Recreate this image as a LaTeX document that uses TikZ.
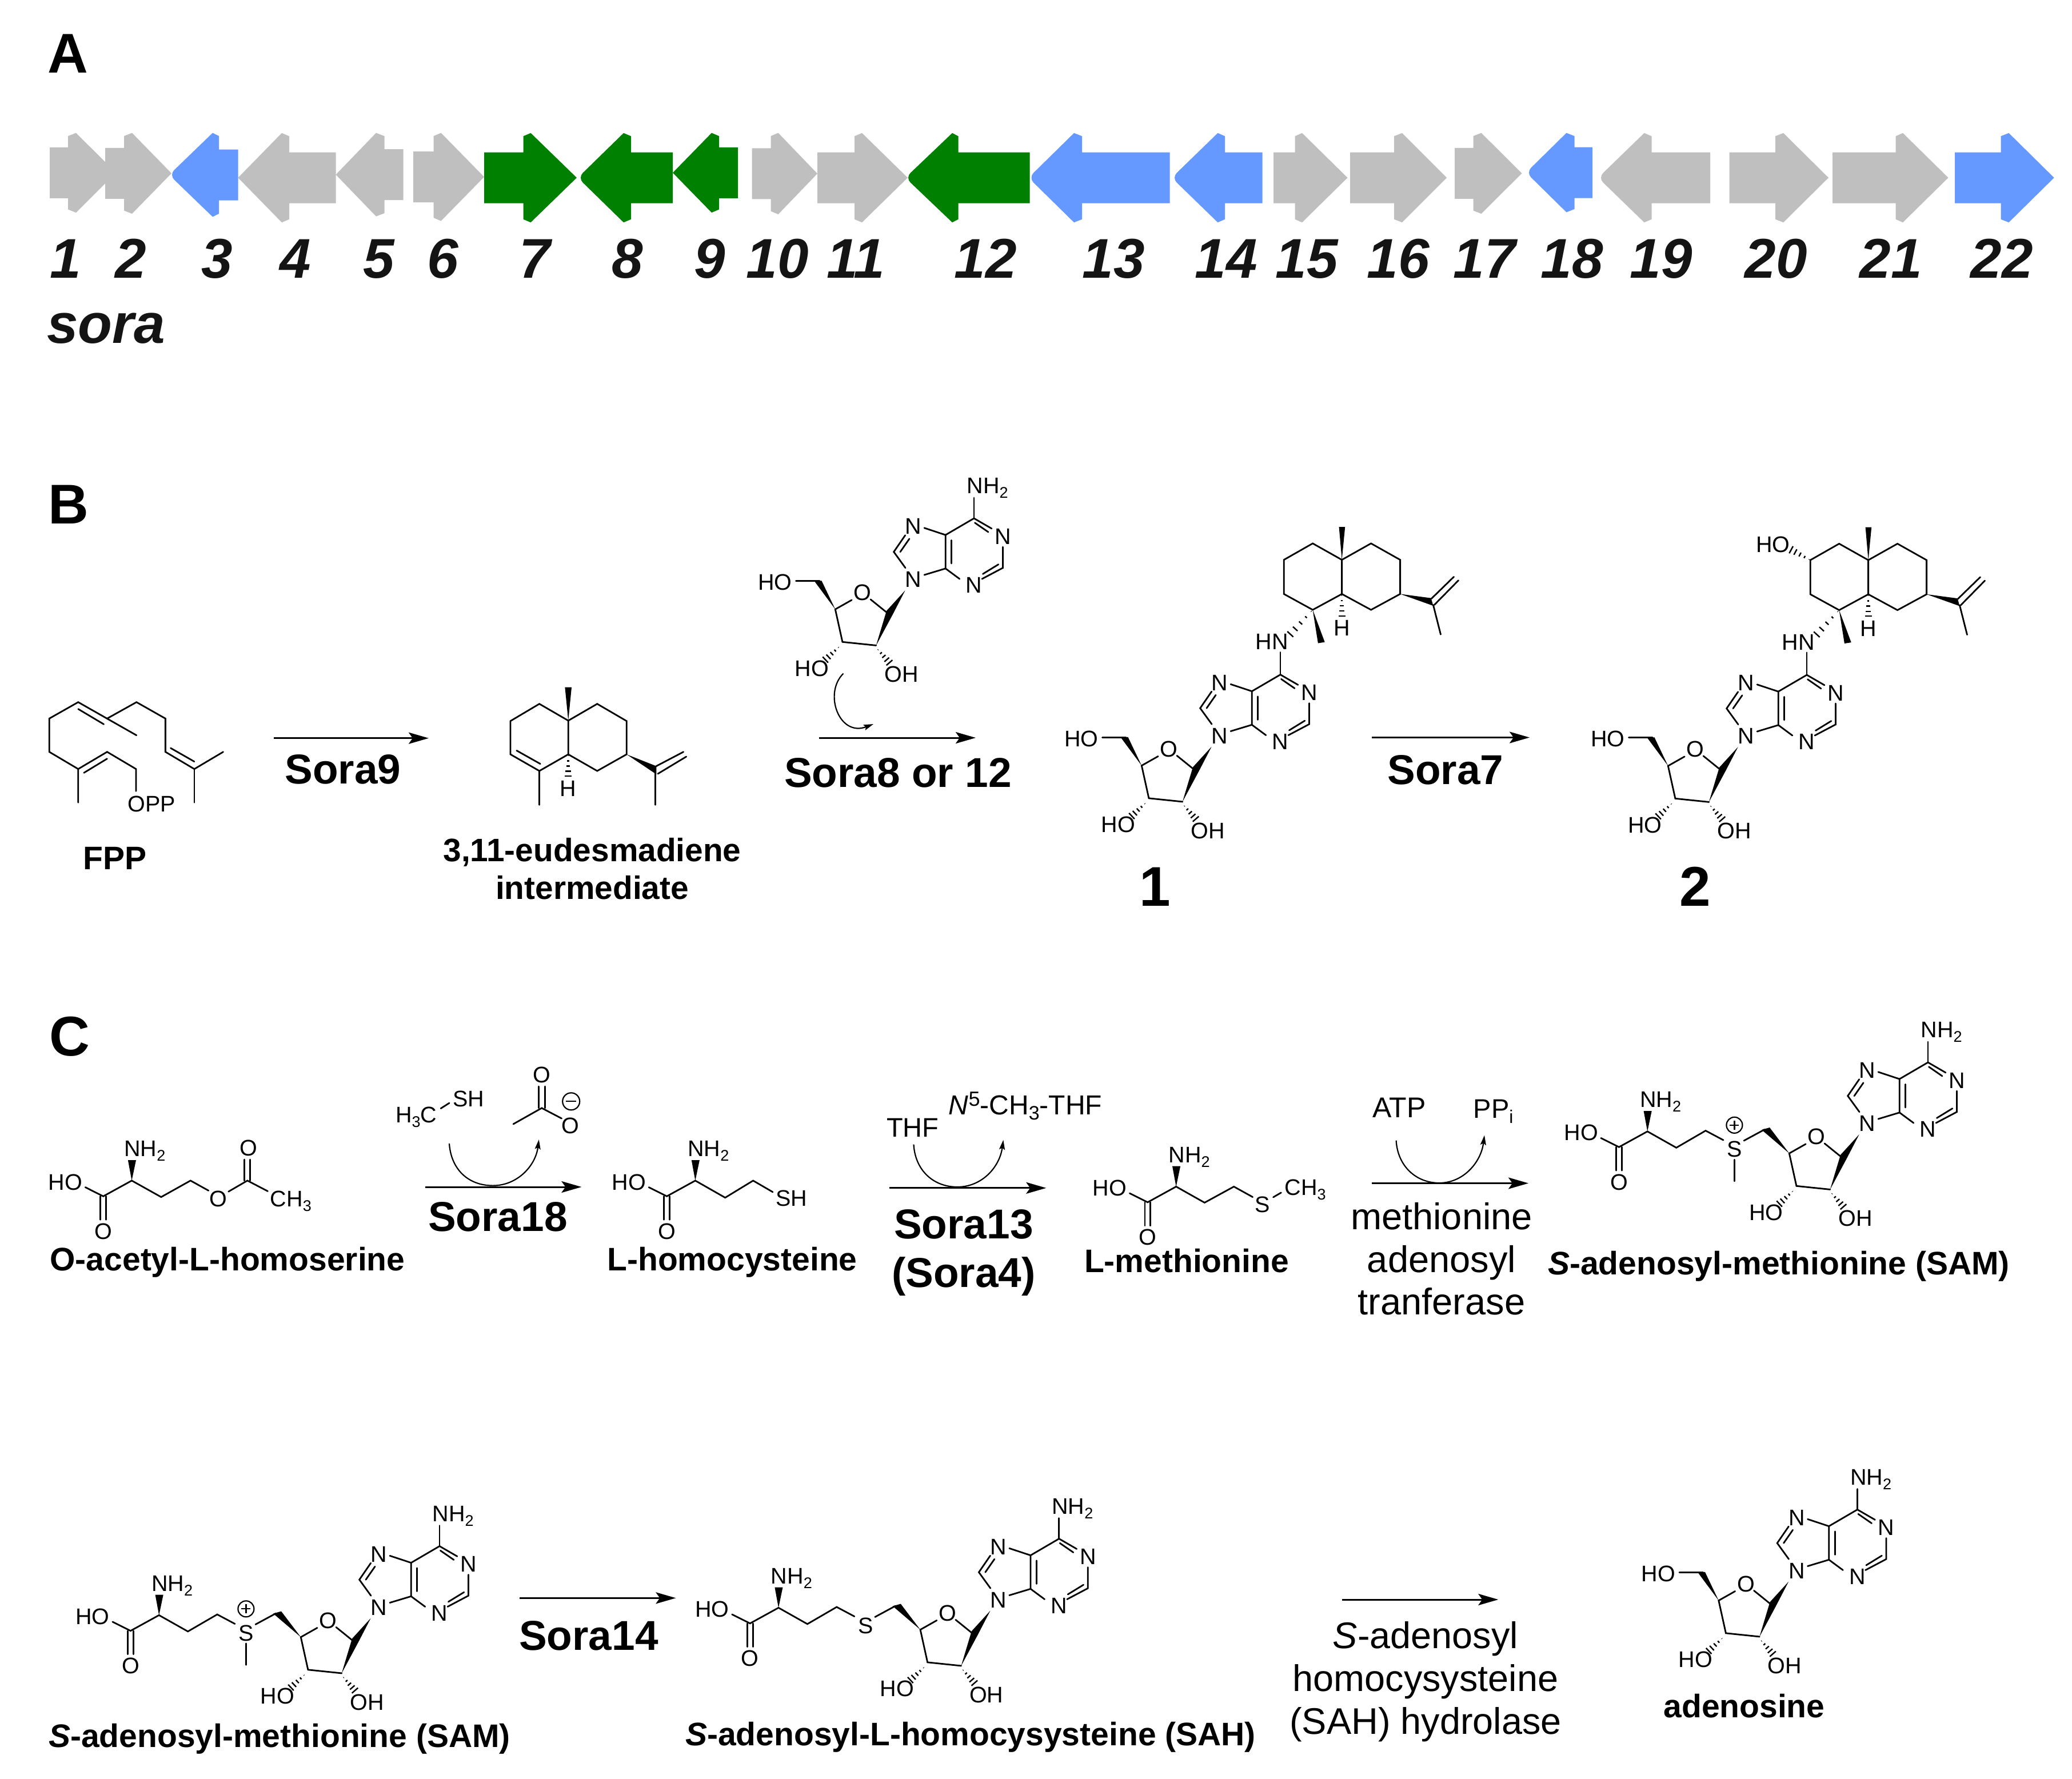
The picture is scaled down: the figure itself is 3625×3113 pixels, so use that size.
\documentclass[tikz,border=0pt]{standalone}
\usepackage{fontspec}
\setmainfont{Liberation Sans}
\usetikzlibrary{arrows.meta}
\definecolor{genegrey}{HTML}{BFBFBF}
\definecolor{geneblue}{HTML}{6699FF}
\definecolor{genegreen}{HTML}{008000}
\definecolor{numblack}{HTML}{141414}
\newcounter{atomc}
\newcommand{\lowsub}[1]{\raisebox{-8pt}{\fontsize{27}{27}\selectfont #1}}
\newcommand{\atom}[3]{\stepcounter{atomc}\node[atomlab] (atom\theatomc) at (#1,#2) {#3};}
\newcommand{\atomb}[3]{\stepcounter{atomc}\node[atomlab,anchor=base west] (atom\theatomc) at (#1,#2) {#3};}
\newcommand{\gene}[8]{\fill[#1] (#2,#6-#7) -- (#3,#6-#7) -- (#3,#6-#8+5.5) -- (#4,#6-#8) -- (#5,#6) -- (#4,#6+#8) -- (#3,#6+#8-5.5) -- (#3,#6+#7) -- (#2,#6+#7) -- cycle;}
\newcommand{\geneR}[8]{\fill[#1] (#2,#6-#7) -- (#3,#6-#7) -- (#3,#6-#8+5.5) -- (#4,#6-#8) [rounded corners=12pt] -- (#5-4,#6) [sharp corners] -- (#4,#6+#8) -- (#3,#6+#8-5.5) -- (#3,#6+#7) -- (#2,#6+#7) -- cycle;}
\newcommand{\gnum}[2]{\stepcounter{atomc}\node[numlab] (num\theatomc) at (#1,486) {#2};}
\newcommand{\hashb}[5]{%
  \pgfmathsetmacro\hdx{#3-(#1)}\pgfmathsetmacro\hdy{#4-(#2)}\pgfmathsetmacro\hlen{veclen(\hdx,\hdy)}%
  \foreach \t in {0.06,0.3,0.54,0.78,1.0}{%
    \pgfmathsetmacro\hcx{#1+\t*\hdx}\pgfmathsetmacro\hcy{#2+\t*\hdy}%
    \pgfmathsetmacro\hpx{-\hdy/\hlen*#5*\t}\pgfmathsetmacro\hpy{\hdx/\hlen*#5*\t}%
    \pgfmathsetmacro\hax{\hcx+\hpx}\pgfmathsetmacro\hay{\hcy+\hpy}%
    \pgfmathsetmacro\hbx{\hcx-\hpx}\pgfmathsetmacro\hby{\hcy-\hpy}%
    \draw[hashline] (\hax,\hay) -- (\hbx,\hby);}}
% adenine + ribose ring without the 6-substituent, origin at C6
\newcommand{\adeninecore}[2]{\begin{scope}[shift={(#1,#2)}]
  \atom{50.5}{31.6}{N}\atom{0}{117.3}{N}\atom{-105.9}{14.3}{N}\atom{-105.9}{107.1}{N}
  \atom{-195}{130}{O}\atom{-283.4}{262.8}{HO}\atom{-127}{273}{OH}
  \draw[bond] (0,0) -- (30.9,17.9);
  \draw[bond] (1.4,7.7) -- (25,24);
  \draw[bond] (50.5,50) -- (50.5,86.7) -- (14,106);
  \draw[bond] (42.8,80.6) -- (15.4,97.4);
  \draw[bond] (-25.2,106) -- (-49.8,87.8) -- (-49.8,29.1) -- (0,0);
  \draw[bond] (-39.3,38.3) -- (-39.3,79);
  \draw[bond] (-49.8,29.1) -- (-87,16.8);
  \draw[bond] (-120.3,29.6) -- (-140.3,58.7) -- (-120,86.7);
  \draw[bond] (-113,35.7) -- (-129,58.7);
  \draw[bond] (-87,99) -- (-49.8,87.8);
  \fill (-120.3,126) -- (-141.7,167.3) -- (-171.2,222.4) -- (-153,161.8) -- cycle;
  \draw[bond] (-150.1,166.8) -- (-181,141.8);
  \draw[bond] (-213.9,142.9) -- (-242.7,159.2) -- (-230.1,216.3) -- (-171.2,222.4);
  \hashb{-235.6}{224.5}{-260}{247.4}{7}
  \hashb{-169}{228.6}{-148}{252.6}{7}
\end{scope}}
\newcommand{\adenine}[2]{\adeninecore{#1}{#2}\begin{scope}[shift={(#1,#2)}]
  \atomb{-12.6}{-43.4}{NH\lowsub{2}}
  \draw[bond] (0,0) -- (0,-36);
\end{scope}}
% free 5'-OH
\newcommand{\hofive}[2]{\begin{scope}[shift={(#1,#2)}]
  \atom{-348}{112}{HO}
  \fill (-242.7,159.2) -- (-266.6,109.2) -- (-279,110.2) -- cycle;
  \draw[bond] (-311.5,109.7) -- (-270,109.7);
\end{scope}}
% terpene part, origin at C6
\newcommand{\terpene}[2]{\begin{scope}[shift={(#1,#2)}]
  \atom{-14.9}{-57.4}{HN}\atom{107.6}{-81.3}{H}
  \draw[bond] (0,-39.2) -- (0,0);
  \draw[bond] (107.6,-200.9) -- (56.6,-229.6) -- (6.2,-200.9) -- (6.2,-141.1) -- (56.6,-113.4) -- (107.6,-141.1) -- cycle;
  \draw[bond] (107.6,-200.9) -- (158.6,-229.6) -- (209.6,-200.9) -- (209.6,-141.1) -- (158.6,-113.4) -- (107.6,-141.1);
  \fill (107.6,-200.9) -- (102.6,-258.3) -- (113.2,-258.3) -- cycle;
  \fill (56.6,-113.4) -- (65.9,-55) -- (77.7,-56.9) -- cycle;
  \fill (209.6,-141.1) -- (263.7,-133.9) -- (267.4,-120.5) -- cycle;
  \draw[bond] (264.3,-133) -- (303.5,-171.2);
  \draw[bond] (269.3,-122) -- (311.6,-165);
  \draw[bond] (267.4,-122) -- (280.5,-70.3);
  \hashb{56.6}{-113.4}{17.4}{-70.8}{7}
  \hashb{107.6}{-141.1}{107.6}{-102.8}{6}
\end{scope}}
% amino acid head, origin at C-alpha
\newcommand{\aahead}[2]{\begin{scope}[shift={(#1,#2)}]
  \atomb{-13.3}{-42.1}{NH\lowsub{2}}\atom{-116.1}{2.5}{HO}\atom{-49.8}{88.7}{O}
  \draw[bond] (-81.3,11.6) -- (-49.8,27.4) -- (0,0);
  \draw[bond] (-54.7,27.4) -- (-54.7,68.4);
  \draw[bond] (-44.8,27.4) -- (-44.8,68.4);
  \fill (0,0) -- (-6.6,-35.8) -- (7.5,-35.8) -- cycle;
\end{scope}}
% thioether bridge (SAM / SAH), origin at C6
\newcommand{\sbridge}[2]{\begin{scope}[shift={(#1,#2)}]
  \atom{-338.6}{152}{S}
  \fill (-242.7,159.2) -- (-277,114) -- (-291,118) -- cycle;
  \draw[bond] (-322,137) -- (-286,117.5);
  \draw[bond] (-358,136) -- (-389,119.5) -- (-440.3,149.3) -- (-490.8,120.8);
\end{scope}\aahead{#1-490.8}{#2+120.8}}
\newcommand{\sammethyl}[2]{\begin{scope}[shift={(#1,#2)}]
  \draw[bond] (-338.6,170.3) -- (-338.6,207.8);
  \draw[thin1] (-338.6,109.8) circle (14);
  \draw[thin1] (-346.6,109.8) -- (-330.6,109.8) (-338.6,101.8) -- (-338.6,117.8);
\end{scope}}
\begin{document}
\begin{tikzpicture}[x=1pt,y=-1pt,
  bond/.style={line width=2.8pt,line cap=round,line join=miter},
  hashline/.style={line width=2.4pt},
  thin1/.style={line width=2.2pt},
  rxn/.style={line width=3pt,-{Stealth[length=35pt,width=20pt,inset=7pt]}},
  curv/.style={line width=2.2pt,-{Stealth[length=17pt,width=10pt,inset=3pt]}},
  atomlab/.style={inner sep=0pt,font=\fontsize{39.5}{41}\selectfont},
  numlab/.style={inner sep=0pt,anchor=base,text=numblack,font=\fontsize{98}{100}\selectfont\bfseries\itshape},
  panel/.style={inner sep=0pt,anchor=base west,font=\fontsize{98}{100}\selectfont\bfseries},
  enz/.style={inner sep=0pt,anchor=base,font=\fontsize{73}{84.2}\selectfont\bfseries},
  cpd/.style={inner sep=0pt,anchor=base,font=\fontsize{57}{65.7}\selectfont\bfseries},
  enzreg/.style={inner sep=0pt,align=center,font=\fontsize{65}{74.6}\selectfont},
  reag/.style={inner sep=0pt,anchor=base west,font=\fontsize{47}{50}\selectfont},
]
\useasboundingbox (0,0) rectangle (3625,3113);
\fill[white] (0,0) rectangle (3625,3113);
% ---------- panel labels
\node[panel] (panelA) at (83,127) {A};
\node[panel] (panelB) at (84,916.7) {B};
\node[panel] (panelC) at (86,1847) {C};
% ---------- gene arrows
\gene{genegrey}{87}{119}{133}{203}{302.3}{44.5}{69.7}
\gene{genegrey}{184}{217}{231}{300}{303.3}{44.5}{70.7}
\geneR{geneblue}{416.5}{383}{372}{300}{306}{44.5}{73.4}
\gene{genegrey}{587.5}{506}{493}{416.5}{311}{44.5}{78.2}
\gene{genegrey}{705.5}{672.5}{658}{587.5}{305.6}{44.5}{73}
\gene{genegrey}{723}{758.6}{771.6}{847}{309.6}{44.5}{77}
\gene{genegreen}{847}{915.5}{928.5}{1009}{311}{44.5}{78.2}
\geneR{genegreen}{1177}{1104}{1091}{1015}{311}{44.5}{78.2}
\gene{genegreen}{1291}{1258}{1245}{1177}{302.3}{44.5}{69.7}
\gene{genegrey}{1315.5}{1348.5}{1361.5}{1430}{303.8}{44.5}{71.2}
\gene{genegrey}{1430}{1495}{1508}{1588}{311}{44.5}{78.2}
\geneR{genegreen}{1801.5}{1676.5}{1666}{1588}{311}{44.5}{78.2}
\geneR{geneblue}{2046.7}{1893}{1879}{1803.5}{311}{44.5}{78.2}
\geneR{geneblue}{2208.5}{2143}{2130.5}{2054}{311}{44.5}{78.2}
\gene{genegrey}{2228}{2265.5}{2278}{2357.5}{311}{44.5}{78.2}
\gene{genegrey}{2362}{2439}{2453}{2531}{311}{44.5}{78.2}
\gene{genegrey}{2545}{2577.5}{2591.5}{2662.5}{303.3}{44.5}{70.7}
\geneR{geneblue}{2786}{2754.5}{2740.5}{2674}{302}{44.5}{69.4}
\geneR{genegrey}{2992}{2889.5}{2876.6}{2800}{311}{44.5}{78.2}
\gene{genegrey}{3025.5}{3106}{3120}{3199}{311}{44.5}{78.2}
\gene{genegrey}{3206}{3316.6}{3329}{3408.5}{311}{44.5}{78.2}
\gene{geneblue}{3420}{3500.5}{3514.4}{3593.6}{311}{44.5}{78.2}
\gnum{114.5}{1}\gnum{229}{2}\gnum{380}{3}\gnum{517}{4}\gnum{663}{5}\gnum{775}{6}
\gnum{936}{7}\gnum{1098}{8}\gnum{1242}{9}\gnum{1360}{10}\gnum{1497}{11}\gnum{1724}{12}
\gnum{1948}{13}\gnum{2145}{14}\gnum{2286}{15}\gnum{2446}{16}\gnum{2597}{17}\gnum{2750}{18}
\gnum{2906}{19}\gnum{3107}{20}\gnum{3308}{21}\gnum{3502}{22}
\node[numlab] (soralab) at (186,600) {sora};
% ---------- FPP
\begin{scope}[shift={(0,1150)},xscale=0.8292,yscale=0.33333]
  \draw[bond] (165,763) -- (165,587) -- (104,497) -- (104,322) -- (165,236) -- (288,410);
  \draw[bond] (226,322) -- (288,236) -- (349,322) -- (349,497) -- (410,587) -- (471,497);
  \draw[bond] (410,587) -- (410,763);
  \draw[bond] (165,272) -- (219,352);
  \draw[bond] (360,477) -- (410,548);
  \draw[bond] (165,587) -- (226,497) -- (287,587) -- (287,703);
  \draw[bond] (177,607) -- (226,533);
  % eudesmadiene
  \draw[bond] (1199,333) -- (1138,245) -- (1077,335) -- (1077,510) -- (1138,597) -- (1199,510) -- cycle;
  \draw[bond] (1199,333) -- (1260,245) -- (1322,335) -- (1322,510) -- (1260,597) -- (1199,510);
  \draw[bond] (1138,597) -- (1138,775);
  \draw[bond] (1090,490) -- (1140,560);
  \fill (1199,333) -- (1192,158) -- (1206,158) -- cycle;
  \fill (1322,510) -- (1385,572) -- (1385,615) -- cycle;
  \draw[bond] (1380,578) -- (1442,497);
  \draw[bond] (1388,612) -- (1448,522);
  \draw[bond] (1383,610) -- (1383,775);
\end{scope}
\atom{265.3}{1406.7}{OPP}
\atom{994}{1380}{H}
\hashb{994}{1320}{994}{1358}{6}
\node[cpd] (fpp) at (201,1521) {FPP};
\node[inner sep=0pt,align=center,font=\fontsize{56.8}{65.7}\selectfont\bfseries] (eud) at (1036,1520) {3,11-eudesmadiene\\intermediate};
\coordinate (a1s) at (479,1291.7); \coordinate (a1e) at (750,1291.7);
\draw[rxn] (a1s) -- (a1e);
\node[enz] (sora9) at (600,1371.7) {Sora9};
% ---------- adenosine donor
\adenine{1704}{907}\hofive{1704}{907}
\coordinate (c2s) at (1475.4,1178.6); \coordinate (c2e) at (1528,1267);
\draw[curv] (c2s) .. controls (1440.3,1213) and (1468,1290) .. (c2e);
\coordinate (a2s) at (1433,1291); \coordinate (a2e) at (1707,1291);
\draw[rxn] (a2s) -- (a2e);
\node[enz] (sora8) at (1571,1377) {Sora8 or 12};
% ---------- compound 1
\adeninecore{2240}{1180.5}\hofive{2240}{1180.5}\terpene{2240}{1180.5}
\node[panel,anchor=base] (cpd1) at (2021,1585.7) {1};
\coordinate (a3s) at (2400,1290.5); \coordinate (a3e) at (2676,1290.5);
\draw[rxn] (a3s) -- (a3e);
\node[enz] (sora7) at (2529,1372) {Sora7};
% ---------- compound 2
\adeninecore{3161}{1181}\hofive{3161}{1181}\terpene{3161}{1181}
\atom{3101.9}{952.9}{HO}
\hashb{3167.2}{980.1}{3133.6}{962}{7}
\node[panel,anchor=base] (cpd2) at (2966,1585.5) {2};
% ---------- C row 1: O-acetyl-L-homoserine
\aahead{230.5}{2065.9}
\begin{scope}[shift={(0,1780)},xscale=0.8292,yscale=0.35075]
  \draw[bond] (278,815) -- (340,897) -- (402,815) -- (440,865);
  \draw[bond] (482,870) -- (522,815) -- (565,868);
  \draw[bond] (516,815) -- (516,710);
  \draw[bond] (528,815) -- (528,710);
  \draw[bond] (930,455) -- (948,428);
  \draw[bond] (1083,533) -- (1143,453) -- (1185,505);
  \draw[bond] (1137,453) -- (1137,345);
  \draw[bond] (1150,453) -- (1150,345);
\end{scope}
\atom{382.3}{2097.4}{O}\atom{434.5}{2008.7}{O}
\atomb{472.6}{2111.5}{CH\lowsub{3}}
\atomb{692}{1964.1}{H\lowsub{3}C}
\atomb{791.9}{1936.1}{SH}
\atom{947.8}{1881}{O}\atom{998.3}{1969.4}{O}
\draw[thin1] (999.2,1927.3) circle (15);
\draw[thin1] (990.2,1927.3) -- (1008.2,1927.3);
\node[cpd] (oacetyl) at (398,2223.7) {O-acetyl-L-homoserine};
\coordinate (c4s) at (786,2001); \coordinate (c4m) at (862.4,2074.6); \coordinate (c4e) at (942.8,1994);
\draw[curv] (c4s) .. controls (789,2045) and (818,2074.6) .. (c4m) .. controls (905,2074.6) and (937,2040) .. (c4e);
\coordinate (a4s) at (743.8,2077); \coordinate (a4e) at (1017.4,2077);
\draw[rxn] (a4s) -- (a4e);
\node[enz] (sora18) at (871,2154.6) {Sora18};
% L-homocysteine
\aahead{1216.4}{2065.9}
\draw[bond] (1216.4,2065.9) -- (1268.7,2095.7) -- (1317.6,2065.9) -- (1352,2085.9);
\atomb{1357}{2110}{SH}
\node[cpd] (hcys) at (1281,2223.7) {L-homocysteine};
\coordinate (c5s) at (1598.5,2002.7); \coordinate (c5m) at (1675,2077); \coordinate (c5e) at (1755.3,1994.7);
\draw[curv] (c5s) .. controls (1601,2047) and (1632,2077) .. (c5m) .. controls (1718,2077) and (1749,2042) .. (c5e);
\coordinate (a5s) at (1556.4,2078.8); \coordinate (a5e) at (1830.3,2078.8);
\draw[rxn] (a5s) -- (a5e);
\node[reag] (thf) at (1551,1989) {THF};
\node[reag,font=\fontsize{48}{50}\selectfont] (nthf) at (1659.7,1950.8) {\textit{N}\raisebox{15pt}{\fontsize{36}{36}\selectfont 5}-CH\raisebox{-9pt}{\fontsize{34}{34}\selectfont 3}-THF};
\node[inner sep=0pt,align=center,font=\fontsize{73}{84.2}\selectfont\bfseries] (sora13) at (1686,2192) {Sora13\\(Sora4)};
% L-methionine
\aahead{2057.6}{2076.4}
\begin{scope}[shift={(1300,1780)},xscale=0.7653,yscale=0.35075]
  \draw[bond] (990,845) -- (1055,925) -- (1122,845) -- (1165,897);
  \draw[bond] (1212,898) -- (1230,875);
\end{scope}
\atom{2208.4}{2108}{S}
\atomb{2247.4}{2091.5}{CH\lowsub{3}}
\node[cpd] (met) at (2076,2226) {L-methionine};
\coordinate (c6s) at (2442.6,1995.7); \coordinate (c6m) at (2518,2070); \coordinate (c6e) at (2597,1986.5);
\draw[curv] (c6s) .. controls (2445,2040) and (2477,2070) .. (c6m) .. controls (2560,2070) and (2591,2034) .. (c6e);
\coordinate (a6s) at (2400,2070.5); \coordinate (a6e) at (2674,2070.5);
\draw[rxn] (a6s) -- (a6e);
\node[reag,font=\fontsize{50}{52}\selectfont] (atp) at (2401,1955) {ATP};
\node[reag] (ppi) at (2577.5,1956.7) {PP\raisebox{-9pt}{\fontsize{32}{32}\selectfont i}};
\node[enzreg] (mat) at (2522,2203) {methionine\\adenosyl\\tranferase};
% SAM 1
\adenine{3373}{1859}\sbridge{3373}{1859}\sammethyl{3373}{1859}
\node[cpd] (sam1) at (3112,2230) {\textit{S}-adenosyl-methionine (SAM)};
% ---------- C row 2
\adenine{769}{2705.5}\sbridge{769}{2705.5}\sammethyl{769}{2705.5}
\node[cpd] (sam2) at (489,3057.4) {\textit{S}-adenosyl-methionine (SAM)};
\coordinate (a7s) at (909,2796.3); \coordinate (a7e) at (1182.4,2796.3);
\draw[rxn] (a7s) -- (a7e);
\node[enz] (sora14) at (1030,2887.5) {Sora14};
\adenine{1852.8}{2692.5}\sbridge{1852.8}{2692.5}
\node[cpd] (sah) at (1698,3054.5) {\textit{S}-adenosyl-L-homocysysteine (SAH)};
\coordinate (a8s) at (2348,2799); \coordinate (a8e) at (2621.3,2799);
\draw[rxn] (a8s) -- (a8e);
\node[enzreg,font=\fontsize{64.8}{74.8}\selectfont] (sahh) at (2494,2943) {\textit{S}-adenosyl\\homocysysteine\\(SAH) hydrolase};
\adenine{3249.5}{2641.5}\hofive{3249.5}{2641.5}
\node[cpd] (ado) at (3051.5,3005.5) {adenosine};
\end{tikzpicture}
\end{document}
